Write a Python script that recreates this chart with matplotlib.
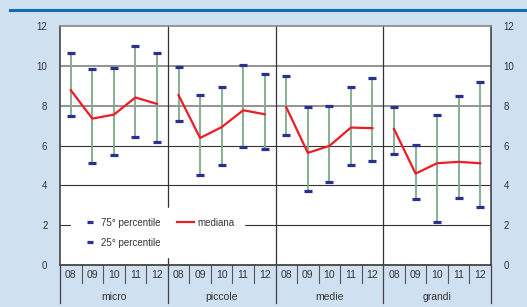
import numpy as np
import matplotlib
matplotlib.use('Agg')
import matplotlib.pyplot as plt
from matplotlib.lines import Line2D

plt.rcParams['font.family'] = ['Liberation Sans', 'DejaVu Sans']

# dati
gruppi = ['micro', 'piccole', 'medie', 'grandi']
anni = ['08', '09', '10', '11', '12']
p75 = [10.65, 9.83, 9.91, 11.0, 10.62,
       9.95, 8.54, 8.96, 10.03, 9.60,
       9.51, 7.95, 7.97, 8.94, 9.38,
       7.92, 6.05, 7.54, 8.51, 9.18]
p25 = [7.47, 5.11, 5.54, 6.42, 6.18,
       7.24, 4.51, 5.01, 5.90, 5.83,
       6.53, 3.72, 4.17, 5.02, 5.23,
       5.58, 3.30, 2.14, 3.35, 2.91]
mediana = [8.78, 7.35, 7.55, 8.41, 8.09,
           8.53, 6.38, 6.92, 7.77, 7.57,
           7.92, 5.63, 5.98, 6.90, 6.87,
           6.83, 4.59, 5.11, 5.18, 5.11]

sfondo = '#cfe0f1'
blu = '#2b2f8f'
verde = '#7fa98a'
rosso = '#ee1c25'

fig = plt.figure(figsize=(5.27, 3.07), dpi=100, facecolor=sfondo)
ax = fig.add_axes([60/527, 1-265/307, 431/527, 239/307])
ax.set_facecolor('white')

n = len(gruppi) * len(anni)
x = np.arange(n)

# griglia
for v in [2, 4, 6]:
    ax.axhline(v, color='#333333', lw=0.8, zorder=1)
for v in [8, 10]:
    ax.axhline(v, color='#8a8a8a', lw=1.3, zorder=1)

# separatori di gruppo dentro il grafico
for k in range(1, len(gruppi)):
    ax.axvline(k*len(anni) - 0.5, color='#333333', lw=0.9, zorder=1)

# baffi e estremi
ax.vlines(x, p25, p75, color=verde, lw=1.3, zorder=2)
ax.plot(x, p75, ls='none', marker='_', ms=5.5, mew=2.3, color=blu, zorder=3)
ax.plot(x, p25, ls='none', marker='_', ms=5.5, mew=2.3, color=blu, zorder=3)

# mediana per gruppo
for k in range(len(gruppi)):
    s = slice(k*len(anni), (k+1)*len(anni))
    ax.plot(x[s], mediana[s], color=rosso, lw=1.6, zorder=4)

ax.set_xlim(-0.5, n - 0.5)
ax.set_ylim(0, 12)
ax.set_yticks(range(0, 13, 2))
ax.tick_params(axis='y', length=0, labelsize=7, labelcolor='#333333', pad=9,
               labelright=True, right=False)
ax.set_xticks([])
for s in ['top', 'right', 'left']:
    ax.spines[s].set_color('#888888')
    ax.spines[s].set_linewidth(1.2)
ax.spines['left'].set_color('#444444')
ax.spines['right'].set_color('#444444')
ax.spines['bottom'].set_color('#444444')
ax.spines['bottom'].set_linewidth(1.3)

# asse categorie sotto il grafico
trans = ax.get_xaxis_transform()
for i in range(n):
    ax.text(i, -0.042, anni[i % len(anni)], transform=trans, ha='center', va='center',
            fontsize=7.5, color='#333333')
    if i % len(anni) != 0:
        ax.plot([i - 0.5, i - 0.5], [0, -0.075], transform=trans, color='#555555',
                lw=0.8, clip_on=False)
for k in range(len(gruppi) + 1):
    ax.plot([k*len(anni) - 0.5]*2, [0, -0.159], transform=trans, color='#444444',
            lw=0.9, clip_on=False)
for k, g in enumerate(gruppi):
    ax.text(k*len(anni) + 2, -0.134, g, transform=trans, ha='center', va='center',
            fontsize=7.5, color='#333333')

# legenda
h75 = Line2D([], [], ls='none', marker='_', ms=4.5, mew=2.3, color=blu)
h25 = Line2D([], [], ls='none', marker='_', ms=4.5, mew=2.3, color=blu)
hmed = Line2D([], [], color=rosso, lw=1.6)
leg = ax.legend([h75, h25, hmed], ['75° percentile', '25° percentile', 'mediana'],
                ncol=2, loc='lower left', bbox_to_anchor=(0.015, 0.012),
                frameon=True, fontsize=7, handlelength=1.8, handletextpad=0.3,
                columnspacing=1.6, labelspacing=1.0, borderpad=1.0)
leg.get_frame().set_facecolor('white')
leg.get_frame().set_edgecolor('white')
leg.get_frame().set_alpha(1)
leg.get_frame().set_boxstyle('square', pad=0)
for t in leg.get_texts():
    t.set_color('#333333')

# linea blu in alto
fig.add_artist(Line2D([10/527, 1], [1-10/307, 1-10/307], color='#0a6eb0', lw=2.2))

fig.savefig('out.png', dpi=100, facecolor=sfondo)
